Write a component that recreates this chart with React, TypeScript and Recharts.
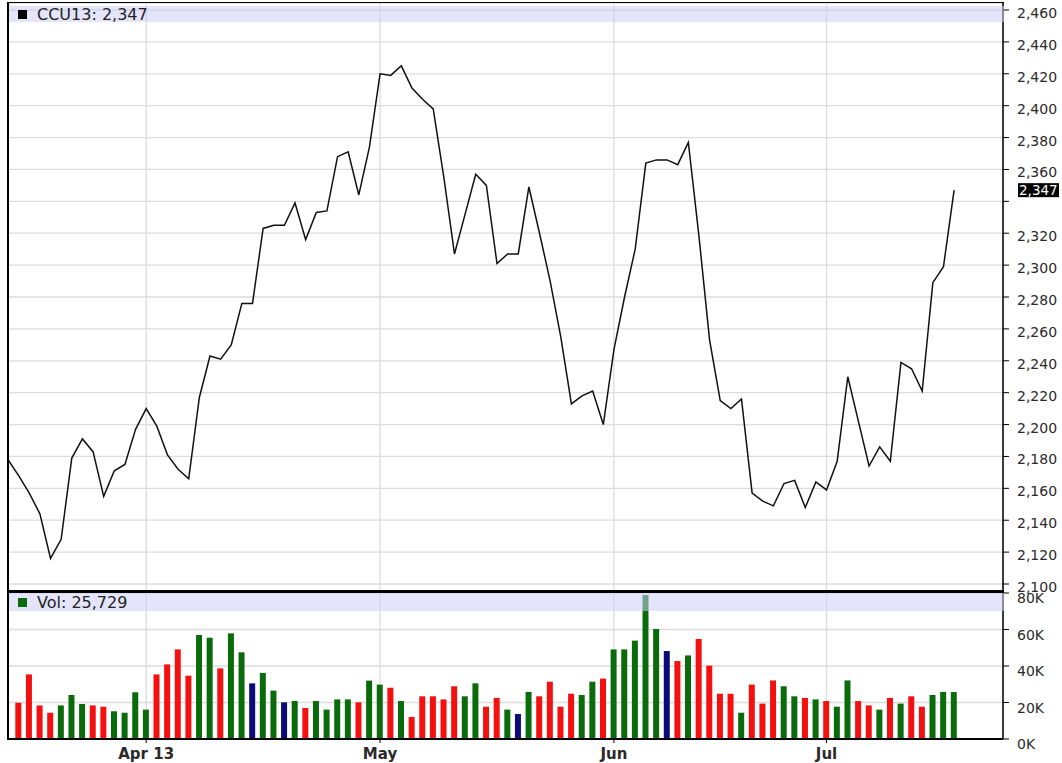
import React from 'react';
import { LineChart, Line, BarChart, Bar, Cell, XAxis, YAxis, CartesianGrid, ReferenceLine } from 'recharts';

const closes = [
  2178, 2168, 2157, 2144, 2116, 2128, 2179, 2191, 2183, 2155,
  2171, 2175, 2197, 2210, 2199, 2181, 2172, 2166, 2217, 2243,
  2241, 2250, 2276, 2276, 2323, 2325, 2325, 2339, 2316, 2333,
  2334, 2368, 2371, 2344, 2374, 2420, 2419, 2425, 2411, 2404,
  2398, 2355, 2307, 2332, 2357, 2350, 2301, 2307, 2307, 2349,
  2320, 2290, 2255, 2213, 2218, 2221, 2200, 2247, 2280, 2310,
  2364, 2366, 2366, 2363, 2377, 2318, 2253, 2215, 2210, 2216,
  2157, 2152, 2149, 2163, 2165, 2148, 2164, 2159, 2177, 2230,
  2202, 2174, 2186, 2177, 2239, 2235, 2221, 2289, 2299, 2347,
];

// volume (thousands) for days 1..89
const volumesK = [
  19.9, 35.4, 18.4, 14.4, 18.4, 24.1, 19.2, 18.4, 17.7, 15.2,
  14.4, 25.6, 16.1, 35.4, 40.9, 49.1, 34.7, 57.0, 55.5, 38.7,
  57.9, 47.5, 30.5, 36.2, 26.5, 20.1, 20.8, 17.0, 20.8, 16.1,
  21.7, 21.7, 20.1, 32.0, 29.8, 28.1, 20.8, 12.1, 23.4, 23.4,
  21.7, 28.9, 23.4, 30.5, 17.7, 22.5, 16.1, 13.7, 25.8, 23.4,
  31.4, 17.7, 24.8, 24.1, 31.4, 33.1, 49.1, 49.1, 53.9, 78.9,
  60.3, 48.2, 42.7, 45.8, 54.8, 40.2, 24.8, 24.8, 14.4, 29.8,
  19.4, 32.1, 28.9, 23.4, 22.5, 21.7, 20.8, 17.7, 32.1, 20.8,
  18.4, 16.1, 22.5, 19.4, 23.4, 17.7, 24.1, 25.8, 25.729,
];

const monthTicks = [13, 35, 57, 77];
const monthLabels = ['Apr 13', 'May', 'Jun', 'Jul'];
const priceTicks = [2100, 2120, 2140, 2160, 2180, 2200, 2220, 2240, 2260, 2280, 2300, 2320, 2340, 2360, 2380, 2400, 2420, 2440, 2460];
const volTicks = [0, 20000, 40000, 60000, 80000];

const symbol = 'CCU13';

const priceData = closes.map((c, i) => ({ i, close: c }));
const volData = volumesK.map((v, k) => ({ i: k + 1, vol: v * 1000 }));

const UP = '#0a6b0a';
const DOWN = '#f51010';
const UNCH = '#0a0a78';
const FONT = 'DejaVu Sans, Verdana, sans-serif';
const X_DOMAIN: [number, number] = [0, 93.6];

const fmt = (v: number) => Math.round(v).toLocaleString('en-US');
const last = closes[closes.length - 1];
const lastVol = volumesK[volumesK.length - 1] * 1000;

const PriceTick = (props: any) => {
  const { x, y, payload } = props;
  if (payload.value === 2340) return <g />;
  return (
    <text x={x} y={y + 8} fontSize={14} fontFamily={FONT} fill="#2a2a2a">
      {fmt(payload.value)}
    </text>
  );
};

const VolTick = (props: any) => {
  const { x, y, payload } = props;
  return (
    <text x={x} y={y + 10} fontSize={14} fontFamily={FONT} fill="#2a2a2a">
      {Math.round(payload.value / 1000) + 'K'}
    </text>
  );
};

const MonthTick = (props: any) => {
  const { x, y, payload } = props;
  const idx = monthTicks.indexOf(payload.value);
  return (
    <text x={x} y={y + 16} fontSize={15} fontWeight="bold" fontFamily={FONT} fill="#2a2a2a" textAnchor="middle">
      {idx >= 0 ? monthLabels[idx] : ''}
    </text>
  );
};

const LastLabel = (props: any) => {
  const vb = props.viewBox || {};
  const x = (vb.x || 0) + (vb.width || 0) + 15;
  const y = vb.y || 0;
  return (
    <g>
      <rect x={x} y={y - 7} width={41} height={14} fill="#000" />
      <text x={x + 1} y={y + 5} fontSize={13.5} fontFamily={FONT} fill="#fff">
        {fmt(last)}
      </text>
    </g>
  );
};

const band: React.CSSProperties = {
  position: 'absolute',
  left: 9,
  width: 995,
  background: 'rgba(205,205,246,0.55)',
  fontFamily: FONT,
  fontSize: 16,
  color: '#222',
  display: 'flex',
  alignItems: 'center',
  boxSizing: 'border-box',
  paddingLeft: 9,
};

const square = (c: string): React.CSSProperties => ({
  width: 9,
  height: 9,
  background: c,
  marginRight: 10,
  display: 'inline-block',
});

export default function App() {
  return (
    <div style={{ position: 'absolute', left: 0, top: 0, width: 1062, height: 763, background: '#fff', overflow: 'hidden' }}>
      <style>{'.recharts-surface{overflow:visible}'}</style>
      <div style={{ position: 'absolute', left: 0, top: 0 }}>
        <LineChart width={1062} height={592} data={priceData} margin={{ top: 3, right: 0, bottom: 1, left: 8 }}>
          <CartesianGrid stroke="#dcdcdc" strokeWidth={1.3} vertical={true} horizontal={true} />
          <XAxis dataKey="i" type="number" domain={X_DOMAIN} ticks={monthTicks} hide allowDataOverflow />
          <YAxis
            orientation="right"
            type="number"
            domain={[2095.61, 2464.39]}
            ticks={priceTicks}
            interval={0}
            width={59}
            allowDataOverflow
            axisLine={{ stroke: '#000', strokeWidth: 1.5 }}
            tickLine={{ stroke: '#000' }}
            tickSize={6}
            tickMargin={8}
            tick={<PriceTick />}
          />
          <ReferenceLine y={last} stroke="none" label={(p: any) => <LastLabel {...p} />} />
          <Line type="linear" dataKey="close" stroke="#111" strokeWidth={1.5} dot={false} isAnimationActive={false} />
        </LineChart>
      </div>
      <div style={{ position: 'absolute', left: 0, top: 592 }}>
        <BarChart width={1062} height={171} data={volData} margin={{ top: 1, right: 0, bottom: 0, left: 8 }} barSize={6}>
          <CartesianGrid stroke="#dcdcdc" strokeWidth={1.3} vertical={true} horizontal={true} />
          <XAxis
            dataKey="i"
            type="number"
            domain={X_DOMAIN}
            ticks={monthTicks}
            interval={0}
            allowDataOverflow
            height={24}
            axisLine={{ stroke: '#000', strokeWidth: 2 }}
            tickLine={{ stroke: '#000' }}
            tickSize={4}
            tickMargin={0}
            tick={<MonthTick />}
          />
          <YAxis
            orientation="right"
            type="number"
            domain={[0, 80000]}
            ticks={volTicks}
            interval={0}
            width={59}
            allowDataOverflow
            axisLine={{ stroke: '#000', strokeWidth: 1.5 }}
            tickLine={{ stroke: '#000' }}
            tickSize={6}
            tickMargin={8}
            tick={<VolTick />}
          />
          <Bar dataKey="vol" isAnimationActive={false}>
            {volData.map((d, k) => {
              const c = closes[d.i], p = closes[d.i - 1];
              return <Cell key={k} fill={c > p ? UP : c < p ? DOWN : UNCH} />;
            })}
          </Bar>
        </BarChart>
      </div>
      {/* frame */}
      <div style={{ position: 'absolute', left: 7, top: 2, width: 2, height: 738, background: '#000' }} />
      <div style={{ position: 'absolute', left: 7, top: 2, width: 997, height: 1, background: '#000' }} />
      <div style={{ position: 'absolute', left: 7, top: 590, width: 997, height: 3, background: '#000' }} />
      {/* legend bands */}
      <div style={{ ...band, top: 6, height: 16 }}>
        <span style={square('#000')} />
        <span>{symbol}: {fmt(last)}</span>
      </div>
      <div style={{ ...band, top: 593, height: 18 }}>
        <span style={square(UP)} />
        <span>Vol: {fmt(lastVol)}</span>
      </div>
    </div>
  );
}
